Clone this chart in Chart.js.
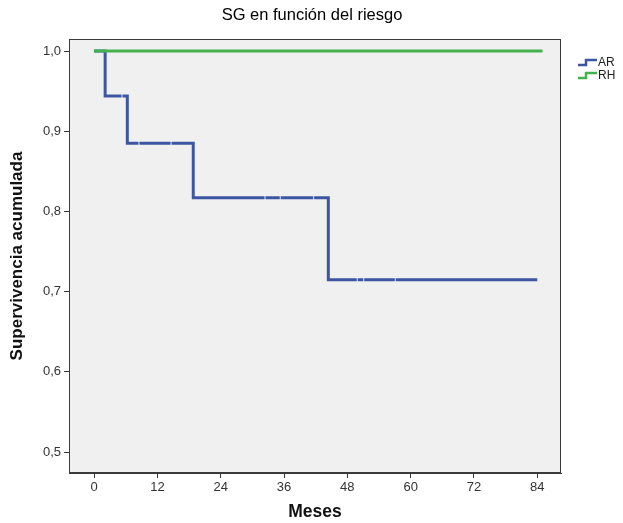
<!DOCTYPE html>
<html>
<head>
  <meta charset="utf-8">
  <script src="https://cdn.jsdelivr.net/npm/chart.js"></script>
  <style>
    body { margin:0; background:#fff; }
    #wrap { width:623px; height:523px; }
  </style>
</head>
<body>
<div id="wrap"><canvas id="myChart" width="623" height="523"></canvas></div>
<script>
  // data
  var chartTitle = "SG en función del riesgo";
  var seriesNames = ["AR", "RH"];
  var arTimes = [0, 2.1, 6.3, 18.8, 44.4, 84];
  var arSurv  = [1.0, 0.944, 0.885, 0.817, 0.715, 0.715];
  var rhTimes = [0, 85];
  var rhSurv  = [1.0, 1.0];
  // censored cases (small light ticks on the line)
  var arCensorTimes = [5.3, 8.5, 14.6, 32.4, 35.3, 41.6, 49.9, 51.1, 57.1];
  var arCensorSurv  = [0.944, 0.885, 0.885, 0.817, 0.817, 0.817, 0.715, 0.715, 0.715];
  var xTickValues = [0, 12, 24, 36, 48, 60, 72, 84];
  var yTickValues = [0.5, 0.6, 0.7, 0.8, 0.9, 1.0];

  var blue = "#3d56a3";
  var green = "#43b24e";
  var fontName = "'Liberation Sans', Arial, sans-serif";

  function toPoints(xs, ys) {
    var pts = [];
    for (var i=0;i<xs.length;i++) pts.push({x:xs[i], y:ys[i]});
    return pts;
  }

  var plotFrame = {
    id: "plotFrame",
    beforeDraw: function(chart) {
      var c = chart.ctx, a = chart.chartArea;
      c.save();
      c.fillStyle = "#fff";
      c.fillRect(0, 0, chart.width, chart.height);
      c.fillStyle = "#f0f0f0";
      c.fillRect(a.left, a.top, a.right-a.left, a.bottom-a.top);
      c.restore();
    },
    afterDraw: function(chart) {
      var c = chart.ctx, a = chart.chartArea;
      c.save();
      c.strokeStyle = "#3a3a3a";
      c.lineWidth = 1;
      c.strokeRect(a.left+0.5, a.top+0.5, a.right-a.left-1, a.bottom-a.top-1);
      // title centred over the whole picture
      c.fillStyle = "#000";
      c.font = "16.5px " + fontName;
      c.textAlign = "center";
      c.textBaseline = "middle";
      c.fillText(chartTitle, 312, 15);
      // legend at the right, outside the plot
      var colors = [blue, green];
      c.font = "12px " + fontName;
      c.textAlign = "left";
      for (var i=0;i<seriesNames.length;i++) {
        var y = 63 + i*13;
        c.strokeStyle = colors[i];
        c.lineWidth = 2.5;
        c.beginPath();
        c.moveTo(578, y+2);
        c.lineTo(586, y+2);
        c.lineTo(586, y-3);
        c.lineTo(597, y-3);
        c.stroke();
        c.fillStyle = "#222";
        c.fillText(seriesNames[i], 598, y);
      }
      c.restore();
    }
  };

  var ctx = document.getElementById("myChart");
  new Chart(ctx, {
    type: "line",
    data: {
      datasets: [
        {label:seriesNames[0], data:toPoints(arTimes, arSurv), stepped:"before",
         borderColor:blue, borderWidth:3, pointRadius:0, fill:false, order:3},
        {label:seriesNames[1], data:toPoints(rhTimes, rhSurv), stepped:"before",
         borderColor:green, borderWidth:3, pointRadius:0, fill:false, order:1},
        {label:"censor", type:"scatter", data:toPoints(arCensorTimes, arCensorSurv),
         pointStyle:"line", rotation:90, pointRadius:2.5, borderWidth:1.2,
         borderColor:"rgba(235,240,255,0.75)", backgroundColor:"rgba(235,240,255,0.75)", order:2}
      ]
    },
    options: {
      responsive: false,
      animation: false,
      layout: { padding: { right: 62, top: 39 } },
      plugins: {
        legend: { display: false },
        tooltip: { enabled: false },
        title: { display: false }
      },
      scales: {
        x: {
          type: "linear",
          min: -4.75, max: 88.5,
          afterFit: function(s) { s.height = 50; },
          afterBuildTicks: function(s) { s.ticks = xTickValues.map(function(v){return {value:v};}); },
          grid: { drawOnChartArea:false, drawTicks:true, tickLength:5, color:"#333" },
          border: { display:true, color:"#3a3a3a", width:1 },
          ticks: { color:"#333", padding:2, maxRotation:0, font:{family:fontName, size:13} },
          title: { display:true, text:"Meses", color:"#111", padding:{top:2, bottom:0},
                   font:{family:fontName, size:17.5, weight:"bold"} }
        },
        y: {
          type: "linear",
          min: 0.474, max: 1.015,
          afterFit: function(s) { s.width = 69; },
          afterBuildTicks: function(s) { s.ticks = yTickValues.map(function(v){return {value:v};}); },
          grid: { drawOnChartArea:false, drawTicks:true, tickLength:5, color:"#333" },
          border: { display:true, color:"#3a3a3a", width:1 },
          ticks: { color:"#333", padding:3, font:{family:fontName, size:13},
                   callback: function(v) { return v.toFixed(1).replace(".", ","); } },
          title: { display:true, text:"Supervivencia acumulada", color:"#111", padding:{top:7, bottom:0},
                   font:{family:fontName, size:17, weight:"bold"} }
        }
      }
    },
    plugins: [plotFrame]
  });
</script>
</body>
</html>
